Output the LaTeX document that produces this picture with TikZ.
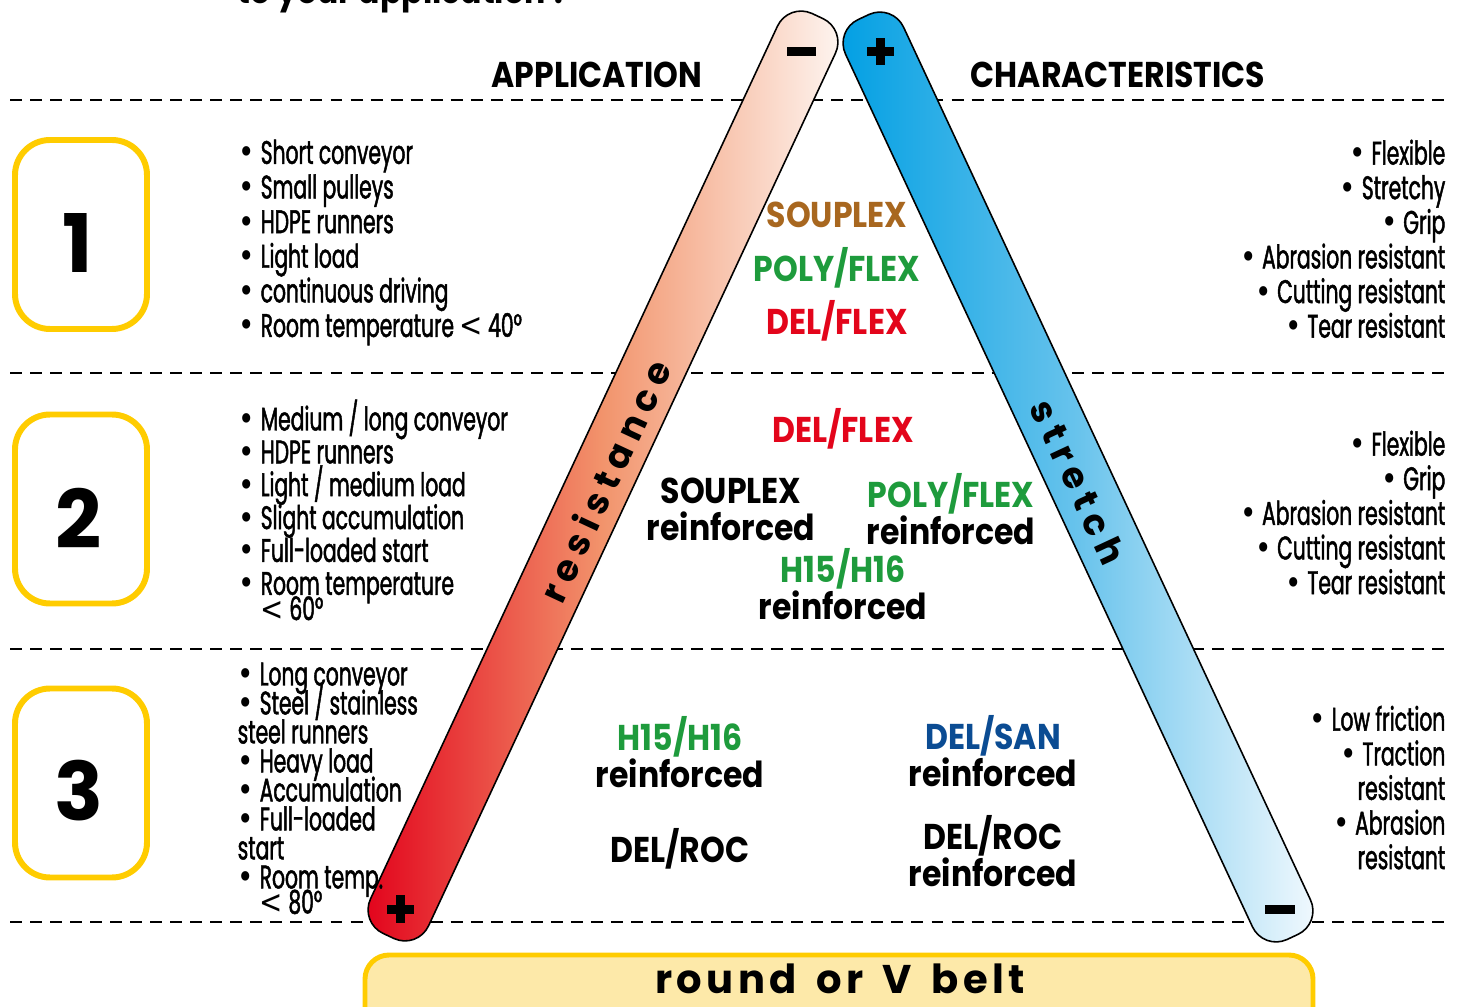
\documentclass[tikz,border=0pt]{standalone}
\usepackage{fontspec}
\setmainfont{Poppins}
\newfontfamily\listfont[FakeStretch=0.62, FakeBold=1.4]{Poppins}
\newfontfamily\labfont[FakeStretch=0.88]{Poppins}
\newfontfamily\barfont[LetterSpace=20]{Poppins}
\newfontfamily\beltfont[LetterSpace=11]{Poppins}
\newfontfamily\symfont[FakeStretch=0.85]{DejaVu Sans}
\newcommand\bul{{\symfont •}\hspace{1.6pt}}
\newcommand\lessthan{{\symfont <}}
\newcommand\tightskip{\lineskiplimit-20pt\relax}
\definecolor{boxyellow}{HTML}{FFCC00}
\definecolor{beltfill}{HTML}{FDE9A9}
\definecolor{resred}{HTML}{E2001A}
\definecolor{resmid}{HTML}{F2946C}
\definecolor{restop}{HTML}{FEF7F3}
\definecolor{strblue}{HTML}{009FE3}
\definecolor{strmid}{HTML}{68C3EC}
\definecolor{strlow}{HTML}{F4FAFE}
\definecolor{souplexbrown}{HTML}{A8671F}
\definecolor{polygreen}{HTML}{1E9B3C}
\definecolor{delred}{HTML}{E3051B}
\definecolor{delsanblue}{HTML}{0B4C93}
\begin{document}
\begin{tikzpicture}[x=0.1mm, y=-0.1mm,
    sep/.style={dashed, line width=0.8pt, dash pattern=on 3.4pt off 2.3pt},
    numbox/.style={draw=boxyellow, line width=1.7pt, rounded corners=3.5mm,
        minimum width=13.2mm, minimum height=18.9mm, inner sep=0},
    numtxt/.style={inner sep=0, font=\fontsize{23}{23}\selectfont\bfseries},
    bar/.style={draw=black, line width=0.45pt, rectangle, rounded corners=2.6mm,
        minimum width=101.5mm, minimum height=6.4mm, inner sep=0},
    head/.style={font=\labfont\fontsize{10.2}{10.5}\selectfont\bfseries},
    lab/.style={align=center, inner sep=0, font=\labfont\fontsize{10.2}{10.5}\selectfont\bfseries},
    listl/.style={align=left, anchor=north west, inner sep=0},
    listr/.style={align=right, anchor=north east, inner sep=0}]
    \useasboundingbox (0,0) rectangle (1462,1007);
    % Title (cut off at the top)
    \node[head, anchor=base west, inner sep=0] (title) at (237,4) {to your application ?};
    % Separators
    \foreach \y in {100,373,649,922}
        \draw[sep] (10,\y) -- (1447,\y);
    % Headers
    \node[head] (apphead) at (597,75) {APPLICATION};
    \node[head] (charhead) at (1118,75) {CHARACTERISTICS};
    % Resistance and stretch bars
    \node[bar, rotate=65, left color=resred, right color=restop, middle color=resmid] (resbar) at (603,476) {};
    \node[bar, rotate=-65, left color=strblue, right color=strlow, middle color=strmid] (strbar) at (1078,477) {};
    \node[rotate=65, font=\barfont\fontsize{10.3}{10.3}\selectfont\bfseries] (restxt) at (605,481) {resistance};
    \node[rotate=-65, font=\barfont\fontsize{10.3}{10.3}\selectfont\bfseries] (strtxt) at (1078,482) {stretch};
    % Signs at the bar ends
    \fill (787,47) rectangle (816,56);
    \fill (867,47) rectangle (894,56);
    \fill (876,38) rectangle (885,65);
    \fill (387,905) rectangle (414,914);
    \fill (396,895) rectangle (405,923);
    \fill (1265,905) rectangle (1295,914);
    % Number boxes
    \node[numbox] (n1) at (81,234.5) {};
    \node[numbox] (n2) at (81,509) {};
    \node[numbox] (n3) at (81,783) {};
    \node[numtxt] (d1) at (78,243) {1};
    \node[numtxt] (d2) at (79,518) {2};
    \node[numtxt] (d3) at (79,791) {3};
    % Applications and characteristics
    \begin{scope}[every node/.append style={font=\listfont\fontsize{9.3}{9.85}\selectfont\tightskip}]
    \node[listl] (app1) at (238,139) {\bul Short conveyor\\\bul Small pulleys\\\bul HDPE runners\\\bul Light load\\\bul continuous driving\\\bul Room temperature \lessthan\ 40°};
    \node[listr] (char1) at (1446,139) {\bul Flexible\\\bul Stretchy\\\bul Grip\\\bul Abrasion resistant\\\bul Cutting resistant\\\bul Tear resistant};
    \node[listr] (char2) at (1446,430) {\bul Flexible\\\bul Grip\\\bul Abrasion resistant\\\bul Cutting resistant\\\bul Tear resistant};
    \node[listr] (char3) at (1446,705) {\bul Low friction\\\bul Traction\\resistant\\\bul Abrasion\\resistant};
    \end{scope}
    \node[listl, font=\listfont\fontsize{9.3}{9.35}\selectfont\tightskip] (app2) at (238,399) {\bul Medium / long conveyor\\\bul HDPE runners\\\bul Light / medium load\\\bul Slight accumulation\\\bul Full-loaded start\\\bul Room temperature\\[-2.1pt]\phantom{\bul}\lessthan\ 60°};
    \node[listl, font=\listfont\fontsize{9.3}{8.25}\selectfont\tightskip] (app3) at (237,662) {\bul Long conveyor\\\bul Steel / stainless\\steel runners\\\bul Heavy load\\\bul Accumulation\\\bul Full-loaded\\start\\\bul Room temp.\\[-1.1pt]\phantom{\bul}\lessthan\ 80°};
    % Belt types
    \node[lab, text=souplexbrown] (sx1) at (837,215) {SOUPLEX};
    \node[lab, text=polygreen] (pf1) at (837,268) {POLY/FLEX};
    \node[lab, text=delred] (df1) at (837,321) {DEL/FLEX};
    \node[lab, text=delred] (df2) at (843,429) {DEL/FLEX};
    \node[lab] (sx2) at (731,509) {SOUPLEX\\reinforced};
    \node[lab] (pf2) at (951,509) {\textcolor{polygreen}{POLY/FLEX}\\reinforced};
    \node[lab] (hh2) at (843,584) {\textcolor{polygreen}{H15/H16}\\reinforced};
    \node[lab] (hh3) at (680,752) {\textcolor{polygreen}{H15/H16}\\reinforced};
    \node[lab] (ds3) at (993,751) {\textcolor{delsanblue}{DEL/SAN}\\reinforced};
    \node[lab] (dr3) at (680,849) {DEL/ROC};
    \node[lab] (drr3) at (993,851) {DEL/ROC\\reinforced};
    % Belt
    \draw[draw=boxyellow, fill=beltfill, line width=1.4pt, rounded corners=2.4mm] (365,955) rectangle (1313,1040);
    \node[font=\beltfont\fontsize{11.4}{11.4}\selectfont\bfseries] (belt) at (840,979) {round\, or\, V\, belt};
\end{tikzpicture}
\end{document}
